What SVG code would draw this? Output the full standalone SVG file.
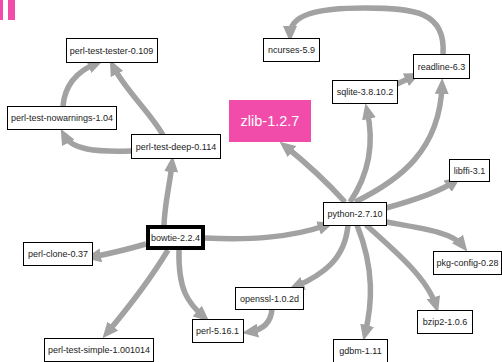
<svg xmlns="http://www.w3.org/2000/svg" width="502" height="362" viewBox="0 0 502 362">
<style>
.n rect{fill:#fff;stroke:#000;stroke-width:1}
.n text{font-family:"Liberation Sans",Arial,sans-serif;font-size:9px;fill:#222;text-anchor:middle}
.e path{fill:none;stroke:#a2a2a2;stroke-width:5.5;marker-end:url(#ah)}
</style>
<defs>
<marker id="ah" markerUnits="userSpaceOnUse" markerWidth="16" markerHeight="14" viewBox="0 0 16 14" refX="9" refY="7" orient="auto">
<path d="M0,0 L16,7 L0,14 Z" fill="#a2a2a2"/>
</marker>
</defs>
<rect x="0" y="0" width="3" height="20" fill="#f24cab"/>
<rect x="8" y="0" width="7" height="20" fill="#f24cab"/>
<g id="edges" class="e">
<path d="M163,135 C150,112 125,90 113,66"/>
<path d="M131,151 C95,152 72,150 64,135"/>
<path d="M63,106 C65,82 80,70 97,63"/>
<path d="M164,225 C165,200 170,185 172,163"/>
<path d="M146,244 C125,250 108,254 92,257"/>
<path d="M168,250 C150,280 128,308 107,333"/>
<path d="M179,250 C178,290 188,303 204,317"/>
<path d="M205,238 C250,240 290,238 327,225"/>
<path d="M345,202 C325,180 305,162 285,146"/>
<path d="M350,202 C365,180 376,150 367,110"/>
<path d="M355,202 C400,180 440,150 442,85"/>
<path d="M397,84 L414,76"/>
<path d="M443,54 C446,12 415,8 365,8 C315,8 290,15 290,35"/>
<path d="M386,208 C415,200 440,192 455,181"/>
<path d="M386,222 C420,228 452,232 463,246"/>
<path d="M366,225 C400,255 428,280 436,306"/>
<path d="M357,225 C375,270 372,305 365,334"/>
<path d="M348,225 C345,260 322,275 295,287"/>
<path d="M272,309 C271,323 262,330 249,332"/>
</g>
<g id="n-tester" class="n"><rect x="66.5" y="38.5" width="91" height="24"/><text x="111.5" y="53.5">perl-test-tester-0.109</text></g>
<g id="n-nowarnings" class="n"><rect x="7.5" y="106.5" width="109" height="23"/><text x="62" y="121">perl-test-nowarnings-1.04</text></g>
<g id="n-deep" class="n"><rect x="131.5" y="134.5" width="89" height="24"/><text x="176" y="149.5">perl-test-deep-0.114</text></g>
<g id="n-bowtie" class="n"><rect x="148" y="227" width="55" height="21" style="stroke-width:4"/><text x="175.5" y="241">bowtie-2.2.4</text></g>
<g id="n-clone" class="n"><rect x="23.5" y="242.5" width="69" height="23"/><text x="58" y="257">perl-clone-0.37</text></g>
<g id="n-simple" class="n"><rect x="44.5" y="338.5" width="109" height="23"/><text x="99" y="353">perl-test-simple-1.001014</text></g>
<g id="n-perl" class="n"><rect x="192.5" y="319.5" width="51" height="23"/><text x="217.5" y="334">perl-5.16.1</text></g>
<g id="n-openssl" class="n"><rect x="235.5" y="287.5" width="68" height="22"/><text x="269.5" y="301.5">openssl-1.0.2d</text></g>
<g id="n-python" class="n"><rect x="323.5" y="202.5" width="63" height="23"/><text x="355" y="217">python-2.7.10</text></g>
<g id="n-zlib"><rect x="229" y="100" width="82" height="42" fill="#f24cab"/><text x="270" y="126" style="font-family:'Liberation Sans',Arial,sans-serif;font-size:14.5px;fill:#fff;text-anchor:middle">zlib-1.2.7</text></g>
<g id="n-sqlite" class="n"><rect x="332.5" y="80.5" width="65" height="23"/><text x="365" y="95">sqlite-3.8.10.2</text></g>
<g id="n-readline" class="n"><rect x="413.5" y="54.5" width="56" height="24"/><text x="441.5" y="69.5">readline-6.3</text></g>
<g id="n-ncurses" class="n"><rect x="263.5" y="38.5" width="56" height="23"/><text x="291.5" y="53">ncurses-5.9</text></g>
<g id="n-libffi" class="n"><rect x="449.5" y="159.5" width="40" height="22"/><text x="469.5" y="173.5">libffi-3.1</text></g>
<g id="n-pkgconfig" class="n"><rect x="433.5" y="251.5" width="68" height="23"/><text x="467.5" y="266">pkg-config-0.28</text></g>
<g id="n-bzip2" class="n"><rect x="417.5" y="310.5" width="55" height="23"/><text x="445" y="325">bzip2-1.0.6</text></g>
<g id="n-gdbm" class="n"><rect x="333.5" y="339.5" width="54" height="23"/><text x="360.5" y="354">gdbm-1.11</text></g>
</svg>
